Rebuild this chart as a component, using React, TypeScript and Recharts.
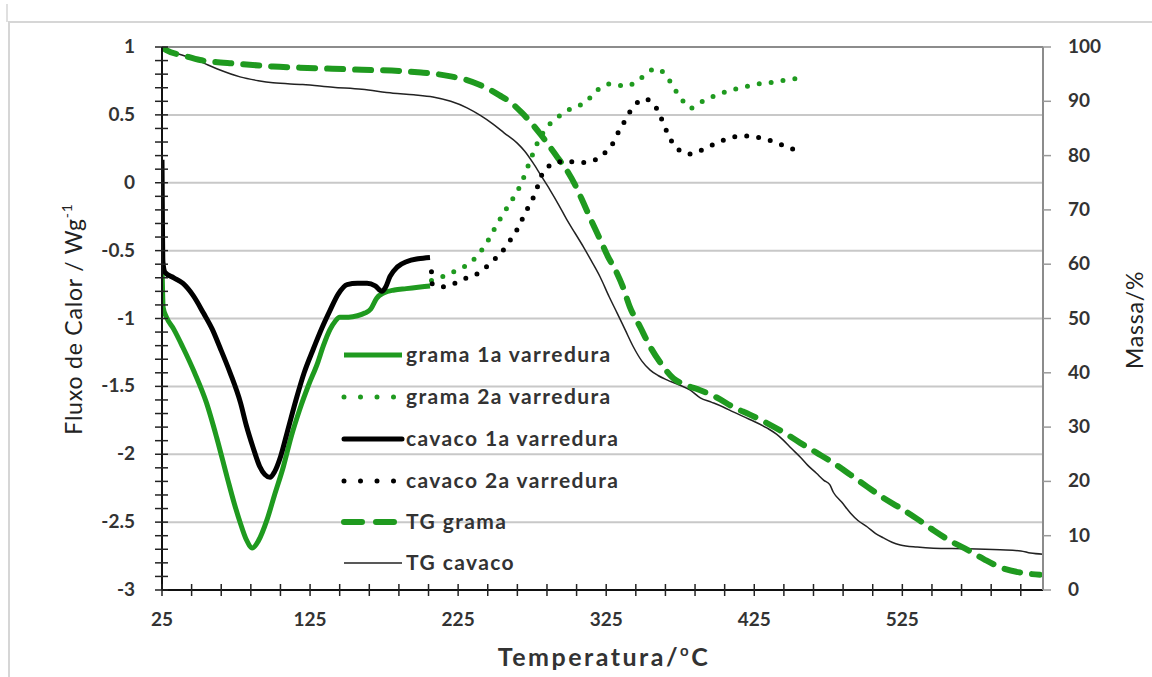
import React from 'react';
import { ComposedChart, Line, XAxis, YAxis, ReferenceLine } from 'recharts';

// temperature (°C) / heat flow (W/g) for the DSC scans
const grama1T = [25, 25.8, 28, 33, 39, 47, 55, 62, 69, 74, 78, 82, 86, 90, 96, 101, 107, 112, 118, 124, 130, 134, 138.5, 142, 145, 151, 157, 162, 166, 170, 175, 182, 190, 198, 206];
const grama1V = [-0.6, -0.92, -0.99, -1.08, -1.21, -1.4, -1.62, -1.88, -2.17, -2.37, -2.51, -2.63, -2.69, -2.64, -2.48, -2.3, -2.09, -1.88, -1.67, -1.49, -1.33, -1.2, -1.08, -1.02, -0.99, -0.99, -0.98, -0.96, -0.93, -0.85, -0.81, -0.79, -0.78, -0.77, -0.76];

const cavaco1T = [25, 25.3, 25.6, 27, 33, 39, 46, 53, 59, 64, 71, 78, 82, 86.5, 91, 94.5, 98, 101, 105, 110, 116, 121, 127, 133, 138.5, 144, 150, 157, 163.5, 169, 173.5, 176, 179, 184, 190.5, 198, 206];
const cavaco1V = [0.17, -0.3, -0.58, -0.66, -0.7, -0.74, -0.83, -0.96, -1.08, -1.21, -1.4, -1.62, -1.79, -1.95, -2.09, -2.15, -2.17, -2.13, -2.02, -1.82, -1.58, -1.4, -1.23, -1.07, -0.94, -0.82, -0.75, -0.74, -0.74, -0.76, -0.8, -0.77, -0.69, -0.62, -0.58, -0.56, -0.55];

const grama2T = [207, 215, 223, 231, 236, 240, 245.5, 251, 256, 260, 263.5, 267, 272.5, 278, 285, 291, 297, 304, 311, 316, 321, 329, 338, 346, 352, 358, 365, 369, 373, 377, 382, 388.5, 396, 403, 412, 420, 429, 438, 448, 457];
const grama2V = [-0.72, -0.69, -0.65, -0.606, -0.56, -0.51, -0.42, -0.31, -0.22, -0.15, -0.09, -0.02, 0.13, 0.28, 0.41, 0.47, 0.52, 0.56, 0.59, 0.65, 0.7, 0.73, 0.71, 0.75, 0.8, 0.84, 0.8, 0.73, 0.66, 0.6, 0.55, 0.59, 0.63, 0.66, 0.69, 0.71, 0.73, 0.74, 0.76, 0.77];

const cavaco2T = [207, 207.5, 215, 223, 231, 238, 244, 250, 254.5, 259, 263.5, 267, 270, 274, 277, 281.5, 286, 292, 300, 308.5, 317.5, 324, 329, 332, 335.5, 339, 343.5, 347, 351, 355, 359, 362, 365, 368, 371.5, 376, 380.5, 386, 392, 399, 406.5, 413, 420, 427, 433.5, 441, 449, 456];
const cavaco2V = [-0.655, -0.746, -0.766, -0.74, -0.7, -0.67, -0.62, -0.56, -0.51, -0.44, -0.37, -0.3, -0.225, -0.15, -0.078, 0.057, 0.12, 0.155, 0.155, 0.148, 0.168, 0.22, 0.28, 0.35, 0.41, 0.49, 0.556, 0.6, 0.617, 0.6, 0.548, 0.48, 0.4, 0.33, 0.266, 0.23, 0.21, 0.225, 0.254, 0.29, 0.322, 0.34, 0.344, 0.335, 0.32, 0.29, 0.258, 0.221];

// temperature (°C) / mass (%) for the TG curves
const tgGramaT = [25, 28, 40, 50.7, 77, 100, 118, 140, 160, 185, 200, 208, 220, 231, 239, 246.6, 253, 260, 268, 275.7, 281, 287, 292, 298.4, 304, 309.6, 315, 321, 326, 332, 336, 341, 348, 354.7, 362.8, 370.3, 378, 388.5, 400, 410.8, 422, 433.8, 445, 456, 467, 478.4, 490, 501.4, 512, 523.6, 535, 546, 557, 569, 580, 591, 605, 618];
const tgGramaM = [100, 99.4, 98.4, 97.6, 96.9, 96.4, 96.2, 96.0, 95.8, 95.6, 95.3, 95.1, 94.6, 93.9, 93.1, 92.1, 91.1, 89.9, 87.9, 85.6, 83.8, 81.6, 79.7, 77.3, 74.6, 71.3, 68.0, 64.5, 61.5, 58.5, 56, 52.1, 48.4, 44.8, 41.4, 39.0, 37.8, 36.8, 35.4, 33.7, 32.3, 30.7, 29.0, 27.1, 25.3, 23.4, 21.2, 19.0, 17.0, 15.1, 13.1, 11.0, 9.1, 7.4, 5.7, 4.2, 3.2, 2.8];

const tgCavacoT = [25, 30, 40, 50.7, 62, 77.7, 90, 100, 120, 140.5, 160, 181, 195, 208, 220, 231, 240, 248.6, 256, 264.9, 270, 275.7, 281, 287, 293, 298.6, 304, 309.6, 315, 321, 327, 332.4, 338, 343.3, 349, 354.7, 360, 366, 374, 381.8, 388.5, 396, 404, 410.8, 422, 433.8, 440, 444.6, 450, 456, 461, 467, 472, 476, 478.4, 484, 489.9, 495, 501.4, 507, 512.2, 518, 523.6, 535, 546, 569, 591, 605, 611.5, 620];
const tgCavacoM = [100, 99.3, 98.4, 97.3, 96.0, 94.5, 93.8, 93.4, 93.1, 92.6, 92.2, 91.5, 91.2, 90.8, 90.0, 88.8, 87.4, 85.8, 84.2, 82.3, 80.8, 78.6, 76.3, 73.7, 70.9, 68.1, 65.7, 63.2, 60.6, 57.6, 54.0, 51.0, 47.8, 44.8, 42.2, 40.5, 39.5, 38.7, 37.8, 36.8, 35.4, 34.6, 33.7, 32.8, 31.4, 29.8, 28.7, 27.6, 26.1, 24.5, 23.0, 21.5, 20.2, 19.4, 18.0, 16.2, 14.2, 12.8, 11.6, 10.4, 9.6, 8.8, 8.3, 7.9, 7.7, 7.6, 7.4, 7.2, 6.8, 6.6];

const xLabels = [25, 125, 225, 325, 425, 525];
const xTicks = Array.from({ length: 30 }, (_, i) => 25 + i * 20);
const leftLabels = [-3, -2.5, -2, -1.5, -1, -0.5, 0, 0.5, 1];
const leftTicks = Array.from({ length: 41 }, (_, i) => Math.round((-3 + i * 0.1) * 10) / 10);
const rightTicks = [0, 10, 20, 30, 40, 50, 60, 70, 80, 90, 100];

const zip = (ts: number[], vs: number[]) => ts.map((t, i) => ({ t, v: vs[i] }));

const GREEN = '#1f9a1f';
const FONT = 'Lato, "Open Sans", sans-serif';

const XTick = (props: any) => {
  const { x, y, payload } = props;
  const major = xLabels.includes(payload.value);
  return (
    <g>
      <line x1={x} x2={x} y1={y - 6} y2={y + 6} stroke="#222" strokeWidth={1.5} />
      {major && (
        <text x={x} y={y + 36} textAnchor="middle" fontSize={19} fontWeight={700} fill="#333" fontFamily={FONT}>
          {payload.value}
        </text>
      )}
    </g>
  );
};

const LeftTick = (props: any) => {
  const { x, y, payload } = props;
  const major = leftLabels.includes(payload.value);
  return (
    <g>
      <line x1={x - 7} x2={x + 6} y1={y} y2={y} stroke="#222" strokeWidth={1.5} />
      {major && (
        <text x={x - 27} y={y + 6} textAnchor="end" fontSize={19} fontWeight={700} fill="#333" fontFamily={FONT}>
          {payload.value}
        </text>
      )}
    </g>
  );
};

const RightTick = (props: any) => {
  const { x, y, payload } = props;
  return (
    <g>
      <line x1={x} x2={x + 8} y1={y} y2={y} stroke="#999" strokeWidth={1.5} />
      <text x={x + 25} y={y + 6} textAnchor="start" fontSize={19} fontWeight={700} fill="#333" fontFamily={FONT}>
        {payload.value}
      </text>
    </g>
  );
};

const legendItems = [
  { label: 'grama 1a varredura', color: GREEN, width: 5, dash: undefined, cap: 'butt' },
  { label: 'grama 2a varredura', color: GREEN, width: 5, dash: '0 16.5', cap: 'round' },
  { label: 'cavaco 1a varredura', color: '#000', width: 5, dash: undefined, cap: 'round' },
  { label: 'cavaco 2a varredura', color: '#000', width: 5, dash: '0 16.5', cap: 'round' },
  { label: 'TG grama', color: GREEN, width: 6, dash: '18 14', cap: 'round' },
  { label: 'TG cavaco', color: '#222', width: 1.5, dash: undefined, cap: 'butt' },
];
const legendRows = [355, 397, 439, 481, 522, 563];

export default function App() {
  return (
    <div style={{ position: 'fixed', left: 0, top: 0, width: 1152, height: 677, background: '#fff', overflow: 'hidden' }}>
      <div style={{ position: 'absolute', left: 8, top: 21, width: 1200, height: 700, borderTop: '2px solid #d6d6d6', borderLeft: '2px solid #d6d6d6' }} />
      <div style={{ position: 'absolute', left: 6, top: 4, width: 2, height: 18, background: '#e0e0e0' }} />
      <ComposedChart width={1152} height={677} margin={{ top: 47, right: 0, bottom: 0, left: 0 }} style={{ position: 'absolute', left: 0, top: 0 }}>
        <XAxis
          xAxisId="x"
          dataKey="t"
          type="number"
          domain={[25, 620]}
          ticks={xTicks}
          interval={0}
          allowDataOverflow
          height={87}
          tickSize={0}
          tickMargin={0}
          tickLine={false}
          tick={<XTick />}
          axisLine={{ stroke: '#111', strokeWidth: 2 }}
        />
        <YAxis
          yAxisId="left"
          type="number"
          domain={[-3, 1]}
          ticks={leftTicks}
          interval={0}
          allowDataOverflow
          width={162}
          tickSize={0}
          tickMargin={0}
          tickLine={false}
          tick={<LeftTick />}
          axisLine={{ stroke: '#111', strokeWidth: 2 }}
        />
        <YAxis
          yAxisId="right"
          orientation="right"
          type="number"
          domain={[0, 100]}
          ticks={rightTicks}
          interval={0}
          allowDataOverflow
          width={109}
          tickSize={0}
          tickMargin={0}
          tickLine={false}
          tick={<RightTick />}
          axisLine={{ stroke: '#8c8c8c', strokeWidth: 2 }}
        />
        {[-2.5, -2, -1.5, -1, -0.5, 0, 0.5].map((v) => (
          <ReferenceLine key={v} xAxisId="x" yAxisId="left" y={v} stroke="#c8c8c8" strokeWidth={2} />
        ))}
        <ReferenceLine xAxisId="x" yAxisId="left" y={1} stroke="#8c8c8c" strokeWidth={2} />

        <Line xAxisId="x" yAxisId="right" data={zip(tgCavacoT, tgCavacoM)} dataKey="v" type="monotone" stroke="#222" strokeWidth={1.5} dot={false} activeDot={false} isAnimationActive={false} />
        <Line xAxisId="x" yAxisId="right" data={zip(tgGramaT, tgGramaM)} dataKey="v" type="monotone" stroke={GREEN} strokeWidth={6} strokeDasharray="16 12" strokeLinecap="round" dot={false} activeDot={false} isAnimationActive={false} />
        <Line xAxisId="x" yAxisId="left" data={zip(grama1T, grama1V)} dataKey="v" type="monotone" stroke={GREEN} strokeWidth={5} dot={false} activeDot={false} isAnimationActive={false} />
        <Line xAxisId="x" yAxisId="left" data={zip(cavaco1T, cavaco1V)} dataKey="v" type="monotone" stroke="#000" strokeWidth={5} dot={false} activeDot={false} isAnimationActive={false} />
        <Line xAxisId="x" yAxisId="left" data={zip(grama2T, grama2V)} dataKey="v" type="monotone" stroke={GREEN} strokeWidth={5} strokeDasharray="0 12" strokeLinecap="round" dot={false} activeDot={false} isAnimationActive={false} />
        <Line xAxisId="x" yAxisId="left" data={zip(cavaco2T, cavaco2V)} dataKey="v" type="monotone" stroke="#000" strokeWidth={5} strokeDasharray="0 12" strokeLinecap="round" dot={false} activeDot={false} isAnimationActive={false} />
      </ComposedChart>

      <svg width={1152} height={677} style={{ position: 'absolute', left: 0, top: 0, pointerEvents: 'none' }}>
        <text transform="translate(82,319) rotate(-90)" textAnchor="middle" fontSize={23} letterSpacing={0.8} fill="#222" fontFamily={FONT}>
          Fluxo de Calor / Wg<tspan dy={-10} fontSize={14}>-1</tspan>
        </text>
        <text transform="translate(1143,320) rotate(-90)" textAnchor="middle" fontSize={23} letterSpacing={0.8} fill="#222" fontFamily={FONT}>
          Massa/%
        </text>
        <text x={604} y={666} textAnchor="middle" fontSize={25} letterSpacing={2.5} fontWeight={700} fill="#333" fontFamily={FONT}>
          Temperatura/<tspan dy={-10} fontSize={15}>o</tspan><tspan dy={10}>C</tspan>
        </text>
        {legendItems.map((it, i) => (
          <g key={it.label}>
            <line x1={344} x2={402} y1={legendRows[i]} y2={legendRows[i]} stroke={it.color} strokeWidth={it.width} strokeDasharray={it.dash} strokeLinecap={it.cap as any} />
            <text x={406} y={legendRows[i] + 7} fontSize={21} letterSpacing={1.4} fontWeight={700} fill="#333" fontFamily={FONT}>
              {it.label}
            </text>
          </g>
        ))}
      </svg>
    </div>
  );
}
